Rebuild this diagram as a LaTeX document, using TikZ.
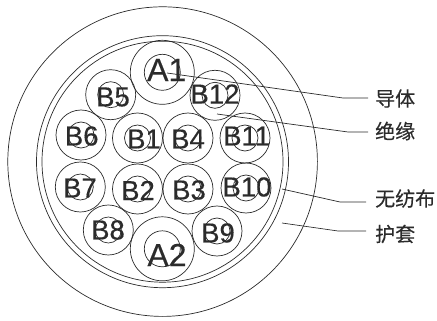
\documentclass[tikz,border=0pt]{standalone}
\usepackage{fontspec}
\setmainfont[FakeBold=0.4]{Liberation Sans}
\newfontfamily\cjk[FakeBold=0.3]{Noto Sans CJK SC}
\definecolor{wire}{HTML}{2B2B2B}
\tikzset{
    ring/.style={draw=wire, line width=0.7pt},
    leader/.style={draw=wire, line width=0.7pt},
    corelabel/.style={inner sep=0pt, text=wire, font=\fontsize{27.5}{27.5}\selectfont},
    biglabel/.style={inner sep=0pt, text=wire, font=\fontsize{32}{32}\selectfont},
    partlabel/.style={inner sep=0pt, anchor=west, text=wire, font=\cjk\fontsize{20}{20}\selectfont}
}
\begin{document}
\begin{tikzpicture}[x=1pt,y=-1pt]
    \useasboundingbox (0,0) rectangle (437,321);
    % sheath and wrapping
    \draw[ring] (162.6,161.6) circle (154.8pt);
    \draw[ring] (162.5,161.7) circle (126pt);
    \draw[ring] (162.5,161.7) circle (120.5pt);
    % large cores
    \foreach \nm/\x/\y/\tx/\ty in {A1/162.3/72.3/166.7/70, A2/162.3/248.8/167/255} {
        \draw[ring] (\x,\y) circle (32pt);
        \draw[ring] (\x,\y) circle (18pt);
        \node[biglabel] (lab\nm) at (\tx,\ty) {\nm};
    }
    % small cores
    \foreach \nm/\x/\y/\tx/\ty in {
        B1/137.5/138/144/139, B2/137.5/189/138/190.5, B3/188/189/189/190,
        B4/188/138/188/139, B5/110.7/94.7/113/97, B6/81/135/81.7/136,
        B7/80.3/187/80/188, B8/108.3/230/108/230, B9/217/231/218/233,
        B10/246/188/247/187, B11/245/138/246.7/136, B12/215/95.3/215/94} {
        \draw[ring] (\x,\y) circle (25pt);
        \draw[ring] (\x,\y) circle (13pt);
        \node[corelabel] (lab\nm) at (\tx,\ty) {\nm};
    }
    % part names
    \node[partlabel] (conductor) at (375,98.5) {导体};
    \node[partlabel] (insulation) at (375,131) {绝缘};
    \node[partlabel] (fabric) at (375,198.5) {无纺布};
    \node[partlabel] (sheath) at (375,234) {护套};
    \coordinate (conductorend) at (167,73);
    \coordinate (insulationend) at (217,114);
    \coordinate (fabricend) at (282,189);
    \coordinate (sheathend) at (282,223);
    \draw[leader] (conductorend) -- (343,98) -- (368,98);
    \draw[leader] (insulationend) -- (348,132) -- (368,132);
    \draw[leader] (fabricend) -- (340,202) -- (366,202);
    \draw[leader] (sheathend) -- (338,231) -- (366,231);
\end{tikzpicture}
\end{document}
